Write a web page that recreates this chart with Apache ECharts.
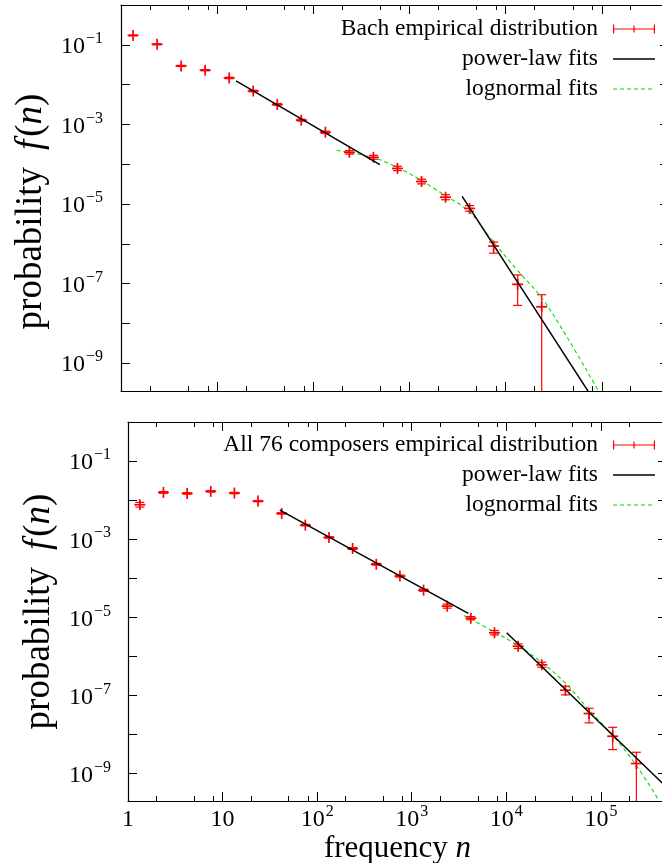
<!DOCTYPE html>
<html><head><meta charset="utf-8">
<script src="https://cdn.jsdelivr.net/npm/echarts@6/dist/echarts.min.js"></script>
<style>html,body{margin:0;padding:0;background:#fff;overflow:hidden}#c{width:662px;height:863px}</style>
</head><body><div id="c"></div>
<script>
// ---- data ----
const binCenters = [1.334, 2.371, 4.217, 7.499, 13.34, 23.71, 42.17, 74.99, 133.4, 237.1, 421.7, 749.9, 1334, 2371, 4217, 7499, 13335, 23714, 42170, 74989, 133352, 237137];

const bachProb = [0.172, 0.103, 0.0295, 0.023, 0.0147, 0.00689, 0.00318, 0.00128, 6.35e-4, 1.99e-4, 1.49e-4, 7.83e-5, 3.68e-5, 1.48e-5, 7.74e-6, 8.75e-7, 9.6e-8, 2.61e-8];
const bachLow  = [0.168, 0.100, 0.0285, 0.0222, 0.0141, 0.0066, 0.00303, 0.00121, 5.95e-4, 1.80e-4, 1.33e-4, 6.9e-5, 3.2e-5, 1.28e-5, 6.6e-6, 5.82e-7, 2.83e-8, 1e-12];
const bachHigh = [0.176, 0.106, 0.0305, 0.0238, 0.0153, 0.0072, 0.00333, 0.00135, 6.75e-4, 2.20e-4, 1.67e-4, 8.9e-5, 4.2e-5, 1.71e-5, 9.1e-6, 1.10e-6, 1.65e-7, 5.25e-8];

const allProb = [7.64e-3, 0.0158, 0.0149, 0.0168, 0.0152, 9.46e-3, 4.58e-3, 2.30e-3, 1.11e-3, 5.81e-4, 2.29e-4, 1.14e-4, 4.97e-5, 1.94e-5, 9.54e-6, 4.04e-6, 1.83e-6, 6.11e-7, 1.37e-7, 3.46e-8, 9.08e-9, 1.82e-9];
const allLow  = [6.65e-3, 0.0150, 0.0142, 0.0161, 0.0146, 9.1e-3, 4.4e-3, 2.2e-3, 1.06e-3, 5.5e-4, 2.17e-4, 1.07e-4, 4.65e-5, 1.72e-5, 8.7e-6, 3.55e-6, 1.6e-6, 5.31e-7, 1.04e-7, 2.0e-8, 4.14e-9, 1e-12];
const allHigh = [8.78e-3, 0.0166, 0.0156, 0.0175, 0.0158, 9.8e-3, 4.76e-3, 2.4e-3, 1.16e-3, 6.1e-4, 2.41e-4, 1.21e-4, 5.3e-5, 2.18e-5, 1.05e-5, 4.6e-6, 2.1e-6, 7.13e-7, 1.73e-7, 4.73e-8, 1.54e-8, 3.53e-9];

const bachPL1X = [15.7, 492],      bachPL1Y = [0.01233, 9.7e-5];
const bachPL2X = [3530, 100000],   bachPL2Y = [1.56e-5, 5.8e-11];
const bachLNX = [174.6, 420, 735, 1324, 2352, 4217, 6855, 12970, 23620, 42960, 93100];
const bachLNY = [2.23e-4, 1.46e-4, 8.45e-5, 3.9e-5, 1.63e-5, 6.3e-6, 1.44e-6, 2.3e-7, 4.4e-8, 4.75e-9, 1.94e-10];

const allPL1X = [40.3, 3963],      allPL1Y = [5.56e-3, 1.26e-5];
const allPL2X = [10090, 500000],   allPL2Y = [4.04e-6, 4.4e-10];
const allLNX = [3565, 7540, 12880, 22750, 43550, 76900, 135600, 239900, 405600];
const allLNY = [1.12e-5, 4.18e-6, 1.99e-6, 7.55e-7, 1.91e-7, 3.97e-8, 9.08e-9, 1.55e-9, 2.17e-10];

const xMajorTicks = [1, 10, 100, 1000, 10000, 100000];
const xMinorTicks = [2, 5, 8, 20, 50, 80, 200, 500, 800, 2000, 5000, 8000, 20000, 50000, 80000, 200000];
const xLabelTicks = [1, 10, 100, 1000, 10000, 100000];
const yMajorTicks = [1e-9, 1e-8, 1e-7, 1e-6, 1e-5, 1e-4, 1e-3, 1e-2, 1e-1];
const yLabelTicks = [1e-9, 1e-7, 1e-5, 1e-3, 1e-1];

const nameBach = 'Bach empirical distribution';
const nameAll = 'All 76 composers empirical distribution';
const namePL = 'power-law fits';
const nameLN = 'lognormal fits';

// ---- helpers ----
const FONT = 'Liberation Serif';
const RED = '#ff0000', GREEN = '#00dd00';
const pairs = (xs, ys) => xs.map((x, i) => [x, ys[i]]);
const errData = (p, lo, hi) => p.map((v, i) => [binCenters[i], v, lo[i], hi[i]]);

function expOf(v) { return Math.round(Math.log10(v)); }
function xFmt(v) {
  const e = expOf(v);
  if (e === 0) return '{b|1}';
  if (e === 1) return '{b|10}';
  return '{b|10}{s|' + e + '}';
}
function yFmt(v) {
  const e = expOf(v);
  return '{b|10}{s|\u2212' + (-e) + '}';
}
const labelRich = {
  b: { fontFamily: FONT, fontSize: 24, lineHeight: 28, verticalAlign: 'bottom', color: '#000' },
  s: { fontFamily: FONT, fontSize: 16, lineHeight: 16, verticalAlign: 'top', color: '#000', padding: [0, 0, 0, 1] }
};

function renderErr(params, api) {
  const x = api.value(0), y = api.value(1), lo = api.value(2), hi = api.value(3);
  const p = api.coord([x, y]);
  const pl = api.coord([x, lo]);
  const ph = api.coord([x, hi]);
  const cw = 4.5, pw = 5.5;
  const st = { stroke: RED, lineWidth: 1.2, fill: null };
  const sp = { stroke: RED, lineWidth: 1.7, fill: null };
  return {
    type: 'group', children: [
      { type: 'line', shape: { x1: p[0], y1: pl[1], x2: p[0], y2: ph[1] }, style: st },
      { type: 'line', shape: { x1: p[0] - cw, y1: pl[1], x2: p[0] + cw, y2: pl[1] }, style: st },
      { type: 'line', shape: { x1: p[0] - cw, y1: ph[1], x2: p[0] + cw, y2: ph[1] }, style: st },
      { type: 'line', shape: { x1: p[0] - pw, y1: p[1], x2: p[0] + pw, y2: p[1] }, style: sp },
      { type: 'line', shape: { x1: p[0], y1: p[1] - pw, x2: p[0], y2: p[1] + pw }, style: sp }
    ]
  };
}

// legend sample icons: 52x10 box, sample drawn in the right 42px
const BOX = 'M0,0L0,0M52,10L52,10';
const errIcon = 'path://' + BOX + 'M10,0.5h1.2v9h-1.2z M50.8,0.5h1.2v9h-1.2z M10,4.4h42v1.2h-42z M30.4,1.5h1.2v7h-1.2z';
const lineIcon = 'path://' + BOX + 'M10,4.25h42v1.5h-42z';
const dashIcon = 'path://' + BOX + 'M10,4.5h4v1.1h-4z M17,4.5h4v1.1h-4z M24,4.5h4v1.1h-4z M31,4.5h4v1.1h-4z M38,4.5h4v1.1h-4z M45,4.5h4v1.1h-4z';

function xAxes(gridIndex, withLabels) {
  const base = {
    type: 'log', logBase: 10, min: 1, max: 500000, gridIndex,
    splitLine: { show: false }, minorTick: { show: false }
  };
  const line = { show: true, lineStyle: { color: '#000', width: 1.2 } };
  return [
    Object.assign({}, base, {
      position: 'bottom', axisLine: line,
      axisTick: { show: true, inside: true, length: 9, customValues: xMajorTicks, lineStyle: { color: '#000', width: 1 } },
      axisLabel: withLabels ? { show: true, customValues: xLabelTicks, formatter: xFmt, rich: labelRich, margin: 3, hideOverlap: false } : { show: false },
      name: withLabels ? '{r|frequency }{i|n}' : '',
      nameLocation: 'middle', nameGap: 27,
      nameTextStyle: { rich: { r: { fontFamily: FONT, fontSize: 31, color: '#000' }, i: { fontFamily: FONT, fontSize: 31, fontStyle: 'italic', color: '#000' } } }
    }),
    Object.assign({}, base, {
      position: 'bottom', axisLine: { show: false },
      axisTick: { show: true, inside: true, length: 5, customValues: xMinorTicks, lineStyle: { color: '#000', width: 1 } },
      axisLabel: { show: false }
    }),
    Object.assign({}, base, {
      position: 'top', axisLine: line,
      axisTick: { show: true, inside: true, length: 9, customValues: xMajorTicks, lineStyle: { color: '#000', width: 1 } },
      axisLabel: { show: false }
    }),
    Object.assign({}, base, {
      position: 'top', axisLine: { show: false },
      axisTick: { show: true, inside: true, length: 5, customValues: xMinorTicks, lineStyle: { color: '#000', width: 1 } },
      axisLabel: { show: false }
    })
  ];
}
function yAxes(gridIndex, margin, namePad) {
  const base = {
    type: 'log', logBase: 10, min: 2e-10, max: 1, gridIndex,
    splitLine: { show: false }, minorTick: { show: false }
  };
  const line = { show: true, lineStyle: { color: '#000', width: 1.2 } };
  const nr = { fontFamily: FONT, fontSize: 37, color: '#000' };
  return [
    Object.assign({}, base, {
      position: 'left', axisLine: line,
      axisTick: { show: true, inside: true, length: 9, customValues: yMajorTicks, lineStyle: { color: '#000', width: 1 } },
      axisLabel: { show: true, customValues: yLabelTicks, formatter: yFmt, rich: labelRich, margin: margin, hideOverlap: false },
      name: '{r|probability}{f|f}{r|(}{i|n}{r|)}',
      nameLocation: 'middle', nameRotate: 90, nameGap: 62,
      nameTextStyle: { padding: namePad, rich: {
        r: nr,
        f: Object.assign({}, nr, { fontStyle: 'italic', padding: [0, 3, 0, 17] }),
        i: Object.assign({}, nr, { fontStyle: 'italic' })
      } }
    }),
    Object.assign({}, base, {
      position: 'right', axisLine: line,
      axisTick: { show: true, inside: true, length: 9, customValues: yMajorTicks, lineStyle: { color: '#000', width: 1 } },
      axisLabel: { show: false }
    })
  ];
}

function seriesFor(gridNo, errName, prob, lo, hi, pl1, pl2, ln) {
  const xi = gridNo * 4, yi = gridNo * 2;
  return [
    { type: 'custom', name: errName, xAxisIndex: xi, yAxisIndex: yi, clip: true,
      itemStyle: { color: RED }, renderItem: renderErr, data: errData(prob, lo, hi), z: 3 },
    { type: 'line', name: namePL, xAxisIndex: xi, yAxisIndex: yi, symbol: 'none', clip: true,
      lineStyle: { color: '#000', width: 1.5 }, itemStyle: { color: '#000' }, data: pl1, z: 4 },
    { type: 'line', name: namePL, xAxisIndex: xi, yAxisIndex: yi, symbol: 'none', clip: true,
      lineStyle: { color: '#000', width: 1.5 }, itemStyle: { color: '#000' }, data: pl2, z: 4 },
    { type: 'line', name: nameLN, xAxisIndex: xi, yAxisIndex: yi, symbol: 'none', clip: true, smooth: 0.4,
      lineStyle: { color: GREEN, width: 1.1, type: [4, 3] }, itemStyle: { color: GREEN }, data: ln, z: 2 }
  ];
}

const legendCommon = {
  orient: 'vertical', align: 'right', right: 7, padding: 0, itemWidth: 52, itemHeight: 10, itemGap: 6,
  selectedMode: false, symbolKeepAspect: true,
  textStyle: { fontFamily: FONT, fontSize: 23.5, lineHeight: 22, color: '#000' }
};

const chart = echarts.init(document.getElementById('c'), null, { renderer: 'canvas' });
chart.setOption({
  animation: false,
  backgroundColor: '#fff',
  grid: [
    { left: 121, top: 5, width: 548, height: 386, outerBoundsMode: 'none', containLabel: false },
    { left: 128, top: 422, width: 539, height: 379, outerBoundsMode: 'none', containLabel: false }
  ],
  legend: [
    Object.assign({}, legendCommon, { top: 17, data: [{ name: nameBach, icon: errIcon }, { name: namePL, icon: lineIcon }, { name: nameLN, icon: dashIcon }] }),
    Object.assign({}, legendCommon, { top: 433, data: [{ name: nameAll, icon: errIcon }, { name: namePL, icon: lineIcon }, { name: nameLN, icon: dashIcon }] })
  ],
  xAxis: xAxes(0, false).concat(xAxes(1, true)),
  yAxis: yAxes(0, 18, [0, 27, 0, 0]).concat(yAxes(1, 17, [0, 0, 0, 0])),
  series: []
    .concat(seriesFor(0, nameBach, bachProb, bachLow, bachHigh, pairs(bachPL1X, bachPL1Y), pairs(bachPL2X, bachPL2Y), pairs(bachLNX, bachLNY)))
    .concat(seriesFor(1, nameAll, allProb, allLow, allHigh, pairs(allPL1X, allPL1Y), pairs(allPL2X, allPL2Y), pairs(allLNX, allLNY)))
});
</script>
</body></html>
